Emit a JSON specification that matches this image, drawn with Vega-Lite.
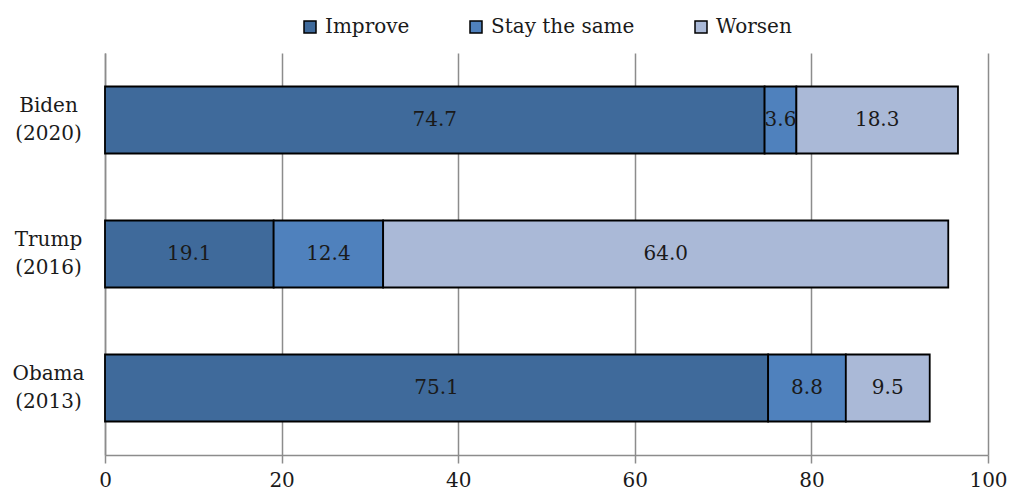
{
  "$schema": "https://vega.github.io/schema/vega-lite/v6.json",
  "width": 883,
  "height": 402,
  "autosize": {"type": "none"},
  "padding": {"left": 105, "top": 53, "right": 22, "bottom": 36},
  "config": {"view": {"stroke": null}, "font": "DejaVu Serif"},
  "data": {
    "values": [
      {"p": "Biden (2020)", "c": "Improve", "v": 74.7},
      {"p": "Biden (2020)", "c": "Stay the same", "v": 3.6},
      {"p": "Biden (2020)", "c": "Worsen", "v": 18.3},
      {"p": "Trump (2016)", "c": "Improve", "v": 19.1},
      {"p": "Trump (2016)", "c": "Stay the same", "v": 12.4},
      {"p": "Trump (2016)", "c": "Worsen", "v": 64.0},
      {"p": "Obama (2013)", "c": "Improve", "v": 75.1},
      {"p": "Obama (2013)", "c": "Stay the same", "v": 8.8},
      {"p": "Obama (2013)", "c": "Worsen", "v": 9.5}
    ]
  },
  "transform": [
    {"stack": "v", "groupby": ["p"], "sort": [{"field": "c"}], "as": ["v0", "v1"]},
    {"calculate": "(datum.v0 + datum.v1) / 2", "as": "vm"}
  ],
  "encoding": {
    "y": {
      "field": "p",
      "type": "nominal",
      "sort": ["Biden (2020)", "Trump (2016)", "Obama (2013)"],
      "scale": {"paddingInner": 0.5, "paddingOuter": 0.25},
      "axis": {
        "title": null,
        "ticks": false,
        "domainColor": "#8c8c8c",
        "domainWidth": 1.5,
        "labelAlign": "center",
        "labelBaseline": "middle",
        "labelPadding": 57,
        "labelOffset": -14,
        "labelExpr": "split(datum.label, ' ')",
        "labelFontSize": 20,
        "labelLineHeight": 28,
        "labelColor": "#1a1a1a"
      }
    }
  },
  "layer": [
    {
      "mark": {"type": "bar", "stroke": "black", "strokeWidth": 1.8},
      "encoding": {
        "x": {
          "field": "v0",
          "type": "quantitative",
          "scale": {"domain": [0, 100], "nice": false},
          "axis": {
            "title": null,
            "values": [0, 20, 40, 60, 80, 100],
            "grid": true,
            "gridColor": "#8c8c8c",
            "gridWidth": 1.5,
            "domainColor": "#8c8c8c",
            "domainWidth": 1.5,
            "tickColor": "#8c8c8c",
            "tickWidth": 1.5,
            "tickSize": 8,
            "labelFontSize": 20,
            "labelPadding": 7,
            "labelFlush": false,
            "labelColor": "#1a1a1a"
          }
        },
        "x2": {"field": "v1"},
        "color": {
          "field": "c",
          "type": "nominal",
          "scale": {
            "domain": ["Improve", "Stay the same", "Worsen"],
            "range": ["#3F6A9B", "#4F81BD", "#AAB9D7"]
          },
          "legend": {
            "title": null,
            "orient": "none",
            "direction": "horizontal",
            "legendX": 195,
            "legendY": -36,
            "symbolType": "square",
            "symbolSize": 144,
            "symbolStrokeColor": "black",
            "symbolStrokeWidth": 1.5,
            "labelFontSize": 20,
            "labelOffset": 5,
            "columnPadding": 56,
            "labelColor": "#1a1a1a"
          }
        }
      }
    },
    {
      "mark": {"type": "text", "fontSize": 20, "color": "#1a1a1a"},
      "encoding": {
        "x": {"field": "vm", "type": "quantitative"},
        "text": {"field": "v", "type": "quantitative", "format": ".1f"}
      }
    }
  ]
}
